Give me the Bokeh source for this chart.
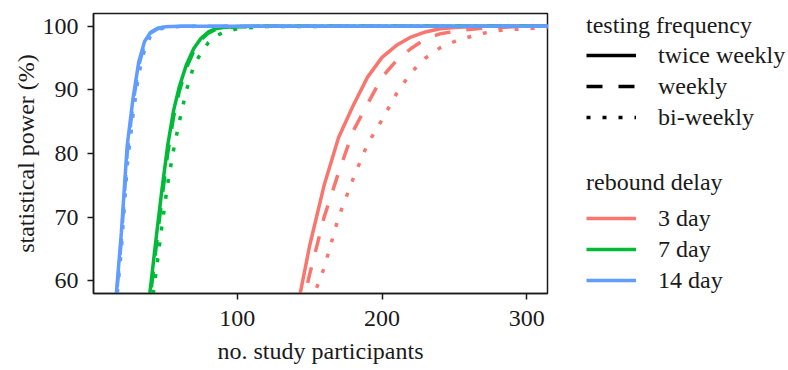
from bokeh.plotting import figure
from bokeh.layouts import row
from bokeh.models import Legend, LegendItem, FixedTicker, Range1d
from bokeh.embed import file_html
from bokeh.resources import INLINE

# ---- data ----
blue_x = [12, 16, 20, 24, 28, 32, 36, 40, 45, 50, 60, 80, 120, 200, 315]
blue_twice = [40, 56.5, 67.6, 81.2, 88.6, 94.4, 97.6, 99.0, 99.7, 99.9, 100, 100, 100, 100, 100]
blue_weekly = [39, 56, 66.5, 80.0, 87.8, 93.8, 97.2, 98.9, 99.6, 99.9, 100, 100, 100, 100, 100]
blue_biweekly = [38, 55, 65.0, 78.0, 86.0, 92.5, 96.3, 98.4, 99.4, 99.8, 99.95, 100, 100, 100, 100]

green_x = [30, 36, 40, 44, 48, 52, 56, 60, 65, 70, 75, 80, 85, 90, 100, 120, 200, 315]
green_twice = [40, 51, 58.7, 66.7, 74.3, 81.3, 86.7, 90.5, 94.0, 96.5, 98.1, 99.1, 99.6, 99.8, 99.95, 100, 100, 100]
green_weekly = [39, 50, 57.5, 65.3, 73.0, 80.0, 85.7, 89.8, 93.5, 96.1, 97.9, 98.9, 99.5, 99.8, 99.9, 100, 100, 100]
green_biweekly = [38, 47, 54.5, 61.4, 68.6, 75.3, 80.5, 85.0, 90.0, 93.8, 95.8, 97.4, 98.4, 99.0, 99.6, 99.95, 100, 100]

red_x = [130, 140, 150, 160, 170, 180, 190, 200, 210, 220, 230, 240, 250, 260, 270, 280, 290, 300, 315]
red_twice = [43, 54, 65.5, 75, 82.5, 87.5, 92, 95.1, 97, 98.3, 99.1, 99.6, 99.8, 99.9, 100, 100, 100, 100, 100]
red_weekly = [40, 51, 61, 70, 77, 83.5, 87.8, 92, 94.6, 96.5, 98, 98.8, 99.2, 99.5, 99.7, 99.8, 99.9, 100, 100]
red_biweekly = [37, 47, 56, 62, 70, 76, 81.5, 85.3, 89.4, 92.7, 95, 96.6, 97.6, 98.3, 98.9, 99.3, 99.5, 99.6, 99.8]

freq_labels = ["twice weekly", "weekly", "bi-weekly"]
delay_labels = ["3 day", "7 day", "14 day"]
y_ticks = [60, 70, 80, 90, 100]
x_ticks = [100, 200, 300]

colors = ["#F8766D", "#00BA38", "#619CFF"]
dashes = ["solid", "16 16", "4 12"]
FONT = "Liberation Serif"
TXT = "#1a1a1a"
LW = 3.5
H = 370
W_MAIN = 549

p = figure(width=W_MAIN, height=H,
           x_range=Range1d(0.75, 314.25), y_range=Range1d(58, 102),
           output_backend="svg", toolbar_location=None,
           min_border_left=93, min_border_right=2,
           min_border_top=13, min_border_bottom=77)

groups = [(red_x, [red_twice, red_weekly, red_biweekly]),
          (green_x, [green_twice, green_weekly, green_biweekly]),
          (blue_x, [blue_twice, blue_weekly, blue_biweekly])]
for (xs, series), col in zip(groups, colors):
    for ys, dash in zip(series, dashes):
        p.line(xs, ys, line_color=col, line_width=LW, line_dash=dash)

p.xgrid.visible = False
p.ygrid.visible = False
p.outline_line_color = "#1a1a1a"
p.outline_line_width = 1.5
p.outline_line_alpha = 1

p.xaxis.ticker = FixedTicker(ticks=x_ticks)
p.yaxis.ticker = FixedTicker(ticks=y_ticks)
p.xaxis.axis_label = "no. study participants"
p.yaxis.axis_label = "statistical power (%)"
for ax in (p.xaxis, p.yaxis):
    ax.axis_line_color = "#1a1a1a"
    ax.axis_line_width = 1.5
    ax.major_tick_line_color = "#1a1a1a"
    ax.major_tick_line_width = 1.5
    ax.major_tick_out = 6
    ax.major_tick_in = 0
    ax.minor_tick_line_color = None
    ax.major_label_text_font = FONT
    ax.major_label_text_font_size = "24px"
    ax.major_label_text_color = TXT
    ax.axis_label_text_font = FONT
    ax.axis_label_text_font_size = "24px"
    ax.axis_label_text_font_style = "normal"
    ax.axis_label_text_color = TXT
p.xaxis.major_label_standoff = 11
p.xaxis.axis_label_standoff = 9
p.yaxis.major_label_standoff = 9
p.yaxis.axis_label_standoff = 1

# ---- legend panel ----
lg = figure(width=788 - W_MAIN, height=H, x_range=Range1d(0, 1), y_range=Range1d(0, 1),
            output_backend="svg", toolbar_location=None,
            x_axis_type=None, y_axis_type=None,
            min_border_left=0, min_border_right=0, min_border_top=0, min_border_bottom=0)
lg.outline_line_color = None
lg.xgrid.visible = False
lg.ygrid.visible = False

# key renderers: the series themselves, drawn in the legend panel outside its (0..1) view
freq_r = [lg.line(red_x, ys, line_color="black", line_width=LW, line_dash=d)
          for ys, d in zip([red_twice, red_weekly, red_biweekly], dashes)]
delay_r = [lg.line(xs, series[0], line_color=c, line_width=LW)
           for (xs, series), c in zip(groups, colors)]

common = dict(padding=0, margin=0, spacing=3, glyph_width=50, glyph_height=28,
              label_height=28, label_standoff=22,
              border_line_color=None, background_fill_alpha=0,
              label_text_font=FONT, label_text_font_size="24px", label_text_color=TXT,
              title_text_font=FONT, title_text_font_size="24px", title_text_color=TXT,
              title_text_font_style="normal")

leg1 = Legend(items=[LegendItem(label=l, renderers=[r]) for l, r in zip(freq_labels, freq_r)],
              title="testing frequency", location=(37, 162), title_standoff=2, **common)
leg2 = Legend(items=[LegendItem(label=l, renderers=[r]) for l, r in zip(delay_labels, delay_r)],
              title="rebound delay", location=(37, -1), title_standoff=8, **common)
lg.add_layout(leg1)
lg.add_layout(leg2)

layout = row(p, lg)
open("out.html", "w").write(file_html(layout, INLINE))
